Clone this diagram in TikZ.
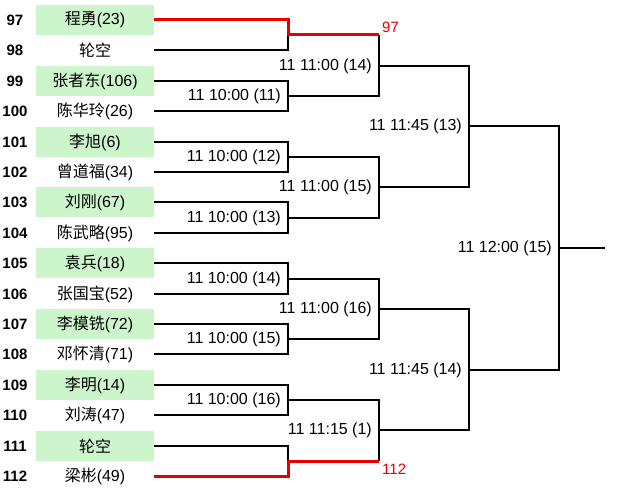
\documentclass[tikz,border=0pt]{standalone}
\usepackage{fontspec}
\setmainfont{Liberation Sans}
\newfontfamily\cjk{Noto Sans CJK SC}
\definecolor{seedgreen}{RGB}{204,245,204}
\definecolor{winred}{RGB}{230,0,0}
\begin{document}
\begin{tikzpicture}[x=1bp,y=-1bp,
  every node/.style={font=\fontsize{16bp}{18bp}\selectfont},
  player/.style={minimum width=118bp, minimum height=30bp, inner sep=0pt, outer sep=0pt},
  seeded/.style={player, fill=seedgreen},
  seednum/.style={font=\fontsize{15bp}{17bp}\selectfont\bfseries, inner sep=0pt},
  bline/.style={line width=2bp, black},
  rline/.style={line width=3bp, winred},
  mlabel/.style={anchor=east, inner sep=0pt, xshift=-7bp},
  rlabel/.style={text=winred, font=\fontsize{15bp}{17bp}\selectfont, inner sep=0pt}]
\useasboundingbox (0,0) rectangle (625,490);

% players
\node[seeded] (p1)  at (95,20)  {{\cjk 程勇}(23)};
\node[player] (p2)  at (95,50)  {{\cjk 轮空}};
\node[seeded] (p3)  at (95,81)  {{\cjk 张者东}(106)};
\node[player] (p4)  at (95,111) {{\cjk 陈华玲}(26)};
\node[seeded] (p5)  at (95,142) {{\cjk 李旭}(6)};
\node[player] (p6)  at (95,172) {{\cjk 曾道福}(34)};
\node[seeded] (p7)  at (95,202) {{\cjk 刘刚}(67)};
\node[player] (p8)  at (95,233) {{\cjk 陈武略}(95)};
\node[seeded] (p9)  at (95,263) {{\cjk 袁兵}(18)};
\node[player] (p10) at (95,294) {{\cjk 张国宝}(52)};
\node[seeded] (p11) at (95,324) {{\cjk 李模铣}(72)};
\node[player] (p12) at (95,354) {{\cjk 邓怀清}(71)};
\node[seeded] (p13) at (95,385) {{\cjk 李明}(14)};
\node[player] (p14) at (95,415) {{\cjk 刘涛}(47)};
\node[seeded] (p15) at (95,446) {{\cjk 轮空}};
\node[player] (p16) at (95,476) {{\cjk 梁彬}(49)};

% seed numbers
\node[seednum] (s1)  at (15,20)  {97};
\node[seednum] (s2)  at (15,50)  {98};
\node[seednum] (s3)  at (15,81)  {99};
\node[seednum] (s4)  at (15,111) {100};
\node[seednum] (s5)  at (15,142) {101};
\node[seednum] (s6)  at (15,172) {102};
\node[seednum] (s7)  at (15,202) {103};
\node[seednum] (s8)  at (15,233) {104};
\node[seednum] (s9)  at (15,263) {105};
\node[seednum] (s10) at (15,294) {106};
\node[seednum] (s11) at (15,324) {107};
\node[seednum] (s12) at (15,354) {108};
\node[seednum] (s13) at (15,385) {109};
\node[seednum] (s14) at (15,415) {110};
\node[seednum] (s15) at (15,446) {111};
\node[seednum] (s16) at (15,476) {112};

% match points
\coordinate (m1) at (288,35);
\coordinate (m2) at (288,96);
\coordinate (m3) at (288,157);
\coordinate (m4) at (288,218);
\coordinate (m5) at (288,279);
\coordinate (m6) at (288,339);
\coordinate (m7) at (288,400);
\coordinate (m8) at (288,461);
\coordinate (n1) at (379,66);
\coordinate (n2) at (379,187);
\coordinate (n3) at (379,309);
\coordinate (n4) at (379,430);
\coordinate (q1) at (469,126);
\coordinate (q2) at (469,370);
\coordinate (f)  at (559,248);
\coordinate (e)  at (605,248);

% round 1
\draw[bline] (m1) |- (p2.east);
\draw[bline] (p3.east) -| (m2) |- (p4.east);
\draw[bline] (p5.east) -| (m3) |- (p6.east);
\draw[bline] (p7.east) -| (m4) |- (p8.east);
\draw[bline] (p9.east) -| (m5) |- (p10.east);
\draw[bline] (p11.east) -| (m6) |- (p12.east);
\draw[bline] (p13.east) -| (m7) |- (p14.east);
\draw[bline] (p15.east) -| (m8);
% round 2
\draw[bline] (m1 -| n1) -- (n1) |- (m2);
\draw[bline] (m3) -| (n2) |- (m4);
\draw[bline] (m5) -| (n3) |- (m6);
\draw[bline] (m7) -| (n4) -- (m8 -| n4);
% round 3
\draw[bline] (n1) -| (q1) |- (n2);
\draw[bline] (n3) -| (q2) |- (n4);
% final
\draw[bline] (q1) -| (f) |- (q2);
\draw[bline] (f) -- (e);
% winners (red)
\draw[rline] (p1.east) -| (m1) -- (m1 -| n1);
\draw[rline] (p16.east) -| (m8) -- (m8 -| n4);

% match labels
\node[mlabel] (l2) at (m2) {11 10:00 (11)};
\node[mlabel] (l3) at (m3) {11 10:00 (12)};
\node[mlabel] (l4) at (m4) {11 10:00 (13)};
\node[mlabel] (l5) at (m5) {11 10:00 (14)};
\node[mlabel] (l6) at (m6) {11 10:00 (15)};
\node[mlabel] (l7) at (m7) {11 10:00 (16)};
\node[mlabel] (k1) at (n1) {11 11:00 (14)};
\node[mlabel] (k2) at (n2) {11 11:00 (15)};
\node[mlabel] (k3) at (n3) {11 11:00 (16)};
\node[mlabel] (k4) at (n4) {11 11:15 (1)};
\node[mlabel] (j1) at (q1) {11 11:45 (13)};
\node[mlabel] (j2) at (q2) {11 11:45 (14)};
\node[mlabel] (ff) at (f)  {11 12:00 (15)};

% winner labels
\node[rlabel, anchor=south west, xshift=3bp, yshift=2bp] (w1) at (m1 -| n1) {97};
\node[rlabel, anchor=north west, xshift=3bp, yshift=-3bp] (w2) at (m8 -| n4) {112};
\end{tikzpicture}
\end{document}
